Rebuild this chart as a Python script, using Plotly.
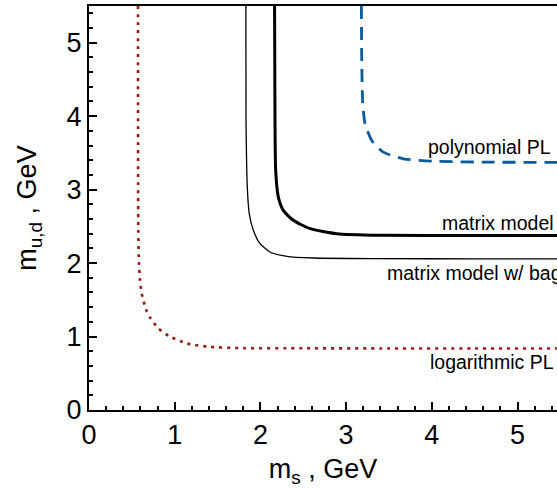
import plotly.graph_objects as go

# Curve data (m_s, m_ud) in GeV
log_x = [0.572, 0.575, 0.583, 0.595, 0.615, 0.665, 0.712, 0.809, 0.945, 1.14, 1.41, 1.80, 2.5, 3.5, 4.5, 5.5]
log_y = [5.5, 2.45, 1.99, 1.77, 1.585, 1.37, 1.26, 1.11, 1.0, 0.906, 0.86, 0.842, 0.840, 0.838, 0.837, 0.837]

bag_x = [1.830, 1.832, 1.847, 1.870, 1.917, 1.995, 2.112, 2.307, 2.617, 3.396, 4.5, 5.5]
bag_y = [5.5, 3.94, 3.03, 2.67, 2.446, 2.265, 2.151, 2.092, 2.069, 2.061, 2.058, 2.057]

mm_x = [2.165, 2.170, 2.178, 2.209, 2.267, 2.384, 2.579, 2.89, 3.395, 4.5, 5.5]
mm_y = [5.5, 3.94, 3.26, 2.898, 2.717, 2.582, 2.469, 2.40, 2.378, 2.375, 2.374]

poly_x = [3.178, 3.182, 3.194, 3.221, 3.299, 3.434, 3.667, 4.017, 4.68, 5.5]
poly_y = [5.5, 4.755, 4.167, 3.895, 3.668, 3.51, 3.42, 3.387, 3.374, 3.372]

x_ticks = [0, 1, 2, 3, 4, 5]
y_ticks = [0, 1, 2, 3, 4, 5]

FONT = "Liberation Sans, Arial, sans-serif"

fig = go.Figure()
fig.add_trace(go.Scatter(x=log_x, y=log_y, mode="lines", line=dict(color="#9a1a0c", width=2.6, dash="3px,5px", shape="spline", smoothing=0.6)))
fig.add_trace(go.Scatter(x=bag_x, y=bag_y, mode="lines", line=dict(color="black", width=1.3, shape="spline", smoothing=0.6)))
fig.add_trace(go.Scatter(x=mm_x, y=mm_y, mode="lines", line=dict(color="black", width=3, shape="spline", smoothing=0.6)))
fig.add_trace(go.Scatter(x=poly_x, y=poly_y, mode="lines", line=dict(color="#0b5a9b", width=2.8, dash="13px,8px", shape="spline", smoothing=0.6)))

# pixel geometry of the plot area
L, R, T, B = 89, 557, 6, 410
W, H = 557, 488
def px(xp):
    return (xp - L) / (R - L)
def py(yp):
    return (B - yp) / (B - T)

labels = [
    ("polynomial PL", 553, 147, "right"),
    ("matrix model", 556, 223, "right"),
    ("matrix model w/ bag", 385, 273, "left"),
    ("logarithmic PL", 556, 362, "right"),
]
for text, xp, yp, anc in labels:
    fig.add_annotation(text=text, x=px(xp), y=py(yp), xref="paper", yref="paper",
                       xanchor=anc, yanchor="middle", showarrow=False,
                       font=dict(family=FONT, size=19.5, color="black"))

axis_common = dict(
    showgrid=False, zeroline=False, showline=True, linecolor="black", linewidth=2,
    ticks="inside", ticklen=8, tickwidth=1.5, tickcolor="black",
    tickfont=dict(family=FONT, size=27, color="black"),
    minor=dict(ticks="inside", ticklen=4, tickwidth=1.5, tickcolor="black", dtick=0.2),
    automargin=False,
)

fig.update_xaxes(range=[0, 5.46], tickvals=x_ticks, mirror=True,
                 title=dict(text="m<sub>s</sub> , GeV", font=dict(family=FONT, size=27, color="black"), standoff=27),
                 **axis_common)
fig.update_yaxes(range=[0, 5.5], tickvals=y_ticks, ticklabelstandoff=0,
                 title=dict(text="m<sub>u,d</sub> , GeV", font=dict(family=FONT, size=27, color="black"), standoff=22),
                 **axis_common)

fig.update_layout(
    width=W, height=H,
    margin=dict(l=L, r=W - R, t=T, b=H - B),
    plot_bgcolor="white", paper_bgcolor="white",
    showlegend=False,
)

fig.write_html("out.html", config={"displayModeBar": False},
               post_script="document.body.style.margin='0';document.body.style.overflow='hidden';")
